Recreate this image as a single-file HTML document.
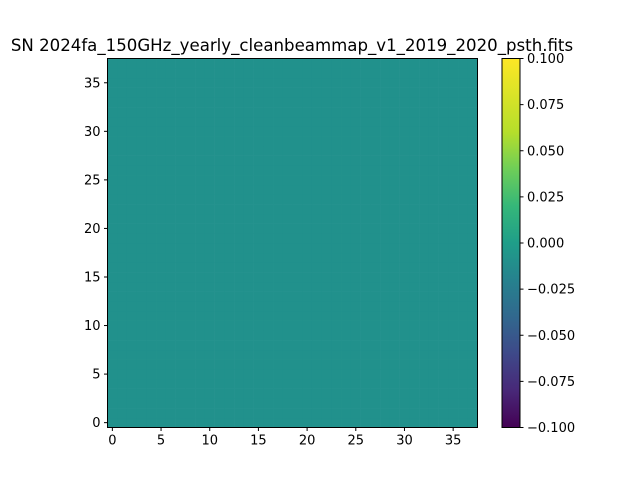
<!DOCTYPE html>
<html><head><meta charset="utf-8"><style>
body{margin:0;background:#fff}
svg{display:block;font-family:"DejaVu Sans","Liberation Sans",sans-serif}
</style></head><body>
<svg id="chart" width="640" height="480" viewBox="0 0 640 480">
<defs><linearGradient id="vir" x1="0" y1="1" x2="0" y2="0">
<stop offset="0" stop-color="#440154"/><stop offset="0.1" stop-color="#482878"/><stop offset="0.2" stop-color="#3e4989"/><stop offset="0.3" stop-color="#31688e"/><stop offset="0.4" stop-color="#26828e"/><stop offset="0.5" stop-color="#1f9e89"/><stop offset="0.6" stop-color="#35b779"/><stop offset="0.7" stop-color="#6ece58"/><stop offset="0.8" stop-color="#b5de2b"/><stop offset="1" stop-color="#fde725"/>
</linearGradient></defs>
<text x="292" y="51" font-size="16.6" text-anchor="middle">SN 2024fa_150GHz_yearly_cleanbeammap_v1_2019_2020_psth.fits</text>
<g id="cells"></g>
<rect x="107.5" y="58.5" width="370" height="369" fill="none" stroke="#000" stroke-width="1"/>
<g id="xticks"></g>
<g id="yticks"></g>
<rect x="502" y="58.5" width="18" height="369" fill="url(#vir)"/>
<rect x="502" y="58.5" width="18" height="369" fill="none" stroke="#000" stroke-width="1"/>
<g id="cticks"></g>
</svg>
<script>
const gridValues = [
"00000000000000000000000000000000000000","00000000000000000000000000000000000000","00000000000000000000000000000000000000","00000000000000000000000000000000000000",
"00000000000000000000000000000000000000","00000000000000000000000000000000000000","00000000000000000000000000000000000000","00000000000000000000000000000000000000",
"00000000000000000000000000000000000000","00000000000000000000000000000000000000","00000000000000000000000000000000000000","00000000000000000000000000000000000000",
"00000000000000000000000000000000000000","00000000000000000000000000000000000000","00000000000000000000000000000000000000","00000000000000000000000000000000000000",
"00000000000000000000000000000000000000","00000000000000000000000000000000000000","00000000000000000000000000000000000000","00000000000000000000000000000000000000",
"00000000000000000000000000000000000000","00000000000000000000000000000000000000","00000000000000000000000000000000000000","00000000000000000000000000000000000000",
"00000000000000000000000000000000000000","00000000000000000000000000000000000000","00000000000000000000000000000000000000","00000000000000000000000000000000000000",
"00000000000000000000000000000000000000","00000000000000000000000000000000000000","00000000000000000000000000000000000000","00000000000000000000000000000000000000",
"00000000000000000000000000000000000000","00000000000000000000000000000000000000","00000000000000000000000000000000000000","00000000000000000000000000000000000000",
"00000000000000000000000000000000000000","00000000000000000000000000000000000000"];
const xTickLabels = [0,5,10,15,20,25,30,35];
const yTickLabels = [0,5,10,15,20,25,30,35];
const cTickLabels = ["-0.100","-0.075","-0.050","-0.025","0.000","0.025","0.050","0.075","0.100"];
const vmin=-0.1, vmax=0.1;
const NS="http://www.w3.org/2000/svg";
const L=107.5,R=477.5,T=58.5,B=427.5;
const nx=38, ny=38;
const xs=v=>L+(v+0.5)/nx*(R-L);
const ys=v=>B-(v+0.5)/ny*(B-T);
const cs=v=>B-(v-vmin)/(vmax-vmin)*(B-T);
const vir=["#440154","#482878","#3e4989","#31688e","#26828e","#21918c","#1f9e89","#35b779","#6ece58","#b5de2b","#fde725"];
function cmap(v){let t=(v-vmin)/(vmax-vmin);t=Math.max(0,Math.min(1,t));return vir[Math.round(t*10)];}
function mk(tag,attrs,parent){const e=document.createElementNS(NS,tag);for(const k in attrs)e.setAttribute(k,attrs[k]);parent.appendChild(e);return e;}
const cells=document.getElementById('cells');
gridValues.forEach((row,j)=>{for(let i=0;i<row.length;i++){
  const v=Number(row[i]);
  const r=mk('rect',{x:xs(i-0.5),y:ys(j+0.5),width:xs(i+0.5)-xs(i-0.5)+0.3,height:ys(j-0.5)-ys(j+0.5)+0.3,fill:cmap(v)},cells);
  
  
}});
const xg=document.getElementById('xticks');
xTickLabels.forEach(v=>{const x=xs(v);
  const l=mk('line',{x1:x,x2:x,y1:B,y2:B+3.5,stroke:'#000'},xg);
  
  
  const t=mk('text',{x:x,y:B+17,'font-size':13,'text-anchor':'middle'},xg);t.textContent=v;
  
  
});
const yg=document.getElementById('yticks');
yTickLabels.forEach(v=>{const y=ys(v);
  const l=mk('line',{x1:L-3.5,x2:L,y1:y,y2:y,stroke:'#000'},yg);
  
  
  const t=mk('text',{x:L-7,y:y+4.5,'font-size':13,'text-anchor':'end'},yg);t.textContent=v;
  
  
});
const cg=document.getElementById('cticks');
cTickLabels.forEach(s=>{const y=cs(parseFloat(s));
  const l=mk('line',{x1:520,x2:523.5,y1:y,y2:y,stroke:'#000'},cg);
  
  
  const t=mk('text',{x:527,y:y+4.5,'font-size':13},cg);t.textContent=s.startsWith('-')?'\u2212'+s.slice(1):s;
  
  
});
</script>
</body></html>
